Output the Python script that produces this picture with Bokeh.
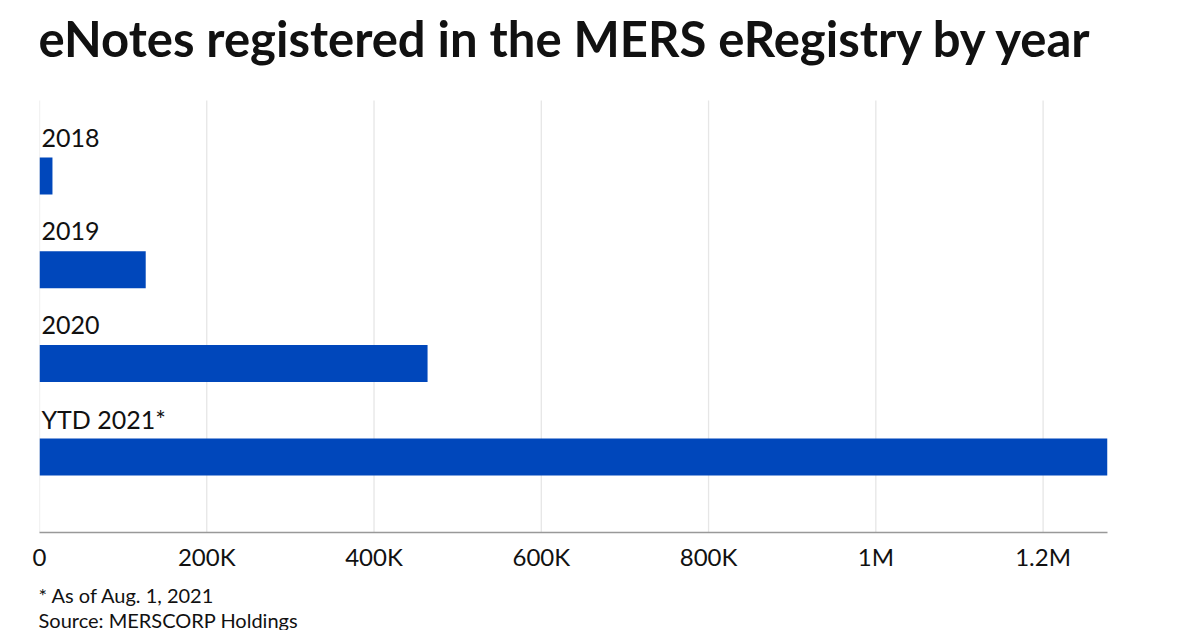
from bokeh.plotting import figure
from bokeh.models import Range1d, FixedTicker, Title, Label, ColumnDataSource
from bokeh.core.properties import value
from bokeh.embed import file_html
from bokeh.resources import INLINE

categories = ["2018", "2019", "2020", "YTD 2021*"]
enotes = [15500, 127000, 464000, 1277000]
tick_values = [0, 200000, 400000, 600000, 800000, 1000000, 1200000]
tick_labels = ["0", "200K", "400K", "600K", "800K", "1M", "1.2M"]
title_text = "eNotes registered in the MERS eRegistry by year"
note_text = "* As of Aug. 1, 2021"
source_text = "Source: MERSCORP Holdings"

FONT = "Lato"
x_max = 1277000
plot_top, plot_bottom = -0.806, 3.805      # category-space extent of the plotting area
canvas_top = -1.873                        # headroom for the title inside the frame

pos = list(range(len(categories)))
src = ColumnDataSource(dict(y=pos, right=enotes, label=categories,
                            ly=[i - 0.41 for i in pos], lx=[0] * len(pos)))

p = figure(width=1184, height=630, output_backend="svg", toolbar_location=None,
           x_range=Range1d(0, x_max), y_range=Range1d(plot_bottom, canvas_top),
           min_border_left=39, min_border_right=77, min_border_top=0,
           min_border_bottom=98)
p.outline_line_color = None
p.background_fill_color = "white"
p.border_fill_color = "white"
p.xgrid.visible = False
p.ygrid.visible = False
p.yaxis.visible = False

# vertical grid lines limited to the plotting area
p.segment(x0=tick_values, x1=tick_values, y0=[plot_top] * len(tick_values),
          y1=[plot_bottom] * len(tick_values), line_color="#e6e6e6", line_width=1.3)

p.hbar(y="y", right="right", left=0, height=0.395, source=src,
       color="#0047BB", line_color=None)
p.text(x="lx", y="ly", text="label", source=src, text_font=value(FONT),
       text_font_size="25px", text_color="#111111", text_baseline="alphabetic",
       text_align="left", x_offset=2)

p.add_layout(Label(x=0, y=-1.474, text=title_text, text_font=FONT,
                   text_font_size="49px", text_font_style="bold",
                   text_color="#111111", text_baseline="alphabetic",
                   text_align="left", x_offset=-1))

xa = p.xaxis[0]
xa.ticker = FixedTicker(ticks=tick_values)
xa.major_label_overrides = {t: l for t, l in zip(tick_values, tick_labels)}
xa.major_label_text_font = FONT
xa.major_label_text_font_size = "24px"
xa.major_label_text_color = "#111111"
xa.major_label_text_align = "left"
xa.major_tick_line_color = None
xa.minor_tick_line_color = None
xa.axis_line_color = "#999999"
xa.axis_line_width = 1.5
xa.major_label_standoff = 3

foot1 = Title(text=note_text, align="left", text_font=FONT,
              text_font_size="20px", text_font_style="normal", text_color="#111111",
              offset=-1, standoff=15)
foot2 = Title(text=source_text, align="left", text_font=FONT,
              text_font_size="20px", text_font_style="normal", text_color="#111111",
              offset=-1, standoff=-18)
p.add_layout(foot1, "below")
p.add_layout(foot2, "below")

open("out.html", "w").write(file_html(p, INLINE))
